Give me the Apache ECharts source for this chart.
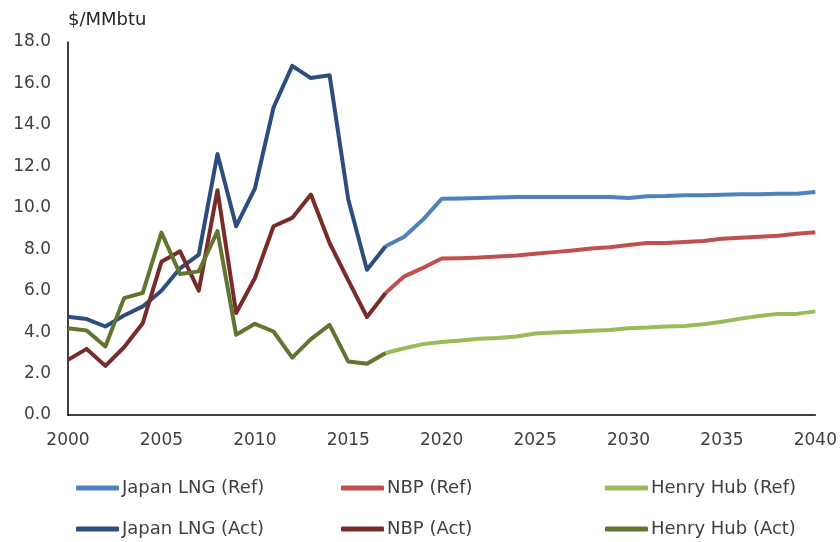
<!DOCTYPE html>
<html>
<head>
<meta charset="utf-8">
<script src="https://cdn.jsdelivr.net/npm/echarts@6/dist/echarts.min.js"></script>
<style>
  html, body { margin: 0; padding: 0; background: #fff; }
  #chart { width: 840px; height: 542px; }
</style>
</head>
<body>
<div id="chart"></div>
<script>
// actual prices 2000-2017
let actYears = [2000, 2001, 2002, 2003, 2004, 2005, 2006, 2007, 2008, 2009,
                2010, 2011, 2012, 2013, 2014, 2015, 2016, 2017];
let japanAct = [4.74, 4.63, 4.27, 4.80, 5.24, 6.00, 7.08, 7.74, 12.60, 9.11,
                10.92, 14.84, 16.85, 16.26, 16.40, 10.40, 7.01, 8.14];
let nbpAct = [2.66, 3.19, 2.37, 3.27, 4.43, 7.39, 7.90, 6.00, 10.85, 4.92,
              6.60, 9.11, 9.51, 10.64, 8.30, 6.50, 4.73, 5.89];
let hhAct = [4.19, 4.08, 3.31, 5.64, 5.89, 8.80, 6.80, 6.93, 8.87, 3.87,
             4.40, 4.03, 2.77, 3.66, 4.35, 2.58, 2.47, 2.99];

// reference outlook 2017-2040
let refYears = [2017, 2018, 2019, 2020, 2021, 2022, 2023, 2024, 2025, 2026, 2027, 2028,
                2029, 2030, 2031, 2032, 2033, 2034, 2035, 2036, 2037, 2038, 2039, 2040];
let japanRef = [8.14, 8.60, 9.43, 10.43, 10.45, 10.47, 10.50, 10.52, 10.52, 10.52, 10.52, 10.52,
                10.52, 10.47, 10.56, 10.57, 10.60, 10.60, 10.63, 10.65, 10.65, 10.68, 10.68, 10.76];
let nbpRef = [5.89, 6.69, 7.10, 7.55, 7.57, 7.60, 7.65, 7.70, 7.78, 7.86, 7.94, 8.04,
              8.10, 8.20, 8.30, 8.30, 8.35, 8.40, 8.50, 8.55, 8.60, 8.65, 8.75, 8.82];
let hhRef = [2.99, 3.22, 3.42, 3.52, 3.60, 3.68, 3.72, 3.79, 3.93, 3.98, 4.02, 4.06,
             4.10, 4.19, 4.22, 4.27, 4.30, 4.38, 4.50, 4.65, 4.78, 4.88, 4.88, 5.00];

let xTicks = [2000, 2005, 2010, 2015, 2020, 2025, 2030, 2035, 2040];

const pair = (years, vals) => years.map((y, i) => [y, vals[i]]);

let textColor = '#404040';
let legendFont = { fontFamily: 'DejaVu Sans', fontSize: 18, color: '#404040' };

const legendItem = (name, left, top) => ({
  data: [name],
  left: left,
  top: top,
  padding: 0,
  icon: 'roundRect',
  itemWidth: 43,
  itemHeight: 5,
  itemGap: 0,
  textStyle: Object.assign({ padding: [0, 0, 0, -2] }, legendFont)
});

let chart = echarts.init(document.getElementById('chart'), null, { renderer: 'canvas' });

let series = [
  { name: 'Japan LNG (Ref)', data: pair(refYears, japanRef), color: '#4F81BD' },
  { name: 'NBP (Ref)', data: pair(refYears, nbpRef), color: '#C0504D' },
  { name: 'Henry Hub (Ref)', data: pair(refYears, hhRef), color: '#9BBB59' },
  { name: 'Japan LNG (Act)', data: pair(actYears, japanAct), color: '#2C4D7E' },
  { name: 'NBP (Act)', data: pair(actYears, nbpAct), color: '#772C2A' },
  { name: 'Henry Hub (Act)', data: pair(actYears, hhAct), color: '#5F7530' }
].map(s => ({
  name: s.name,
  type: 'line',
  data: s.data,
  showSymbol: false,
  symbol: 'none',
  color: s.color,
  lineStyle: { width: 4, color: s.color, join: 'round' },
  animation: false
}));

let option = {
  backgroundColor: '#fff',
  animation: false,
  grid: { left: 68, right: 22, top: 42, bottom: 127 },
  legend: [
    legendItem('Japan LNG (Ref)', 76, 479),
    legendItem('NBP (Ref)', 341, 479),
    legendItem('Henry Hub (Ref)', 605, 479),
    legendItem('Japan LNG (Act)', 76, 520),
    legendItem('NBP (Act)', 341, 520),
    legendItem('Henry Hub (Act)', 605, 520)
  ],
  xAxis: {
    type: 'value',
    min: 2000,
    max: 2040,
    interval: 5,
    axisLine: { lineStyle: { color: '#000', width: 1.5 } },
    axisTick: { show: false },
    splitLine: { show: false },
    axisLabel: {
      color: textColor,
      fontFamily: 'DejaVu Sans',
      fontSize: 17,
      margin: 17,
      formatter: v => xTicks.includes(v) ? String(v) : ''
    }
  },
  yAxis: {
    type: 'value',
    min: 0,
    max: 18,
    interval: 2,
    name: '$/MMbtu',
    nameLocation: 'end',
    nameGap: 13,
    nameTextStyle: { color: '#262626', fontFamily: 'DejaVu Sans', fontSize: 18, align: 'left' },
    axisLine: { show: true, lineStyle: { color: '#000', width: 1.5 } },
    axisTick: { show: false },
    splitLine: { show: false },
    axisLabel: {
      color: textColor,
      fontFamily: 'DejaVu Sans',
      fontSize: 17,
      margin: 17,
      formatter: v => v.toFixed(1)
    }
  },
  series: series
};

chart.setOption(option);
</script>
</body>
</html>
